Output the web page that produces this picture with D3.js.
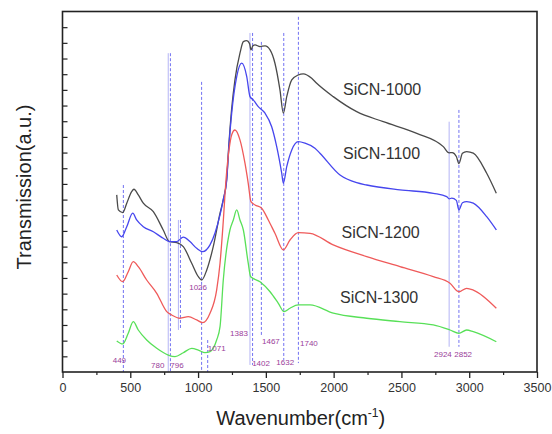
<!DOCTYPE html>
<html>
<head>
<meta charset="utf-8">
<script src="https://cdn.jsdelivr.net/npm/d3@7"></script>
<style>
  body { margin: 0; background: #fff; }
  svg { display: block; }
</style>
</head>
<body>
<svg id="chart" width="552" height="434"></svg>
<script>
// FTIR spectra of SiCN ceramics pyrolysed at different temperatures
// (wavenumber in cm^-1, transmission in arbitrary units, curves stacked)
const seriesNames = ["SiCN-1000", "SiCN-1100", "SiCN-1200", "SiCN-1300"];

const sicn1000 = [
  [400,11.30],[412,10.34],[444,10.17],[474,10.77],[510,11.51],[527,11.66],[559,11.30],[596,10.77],
  [670,10.23],[743,9.06],[788,8.32],[842,8.25],[891,8.00],[953,6.94],[1002,6.08],[1027,5.87],
  [1064,6.51],[1112,8.00],[1162,10.13],[1186,11.0],[1211,12.3],[1228,14.6],[1247,16.72],[1272,18.64],
  [1309,20.34],[1334,21.08],[1359,21.14],[1380,20.95],[1390,20.55],[1405,20.82],[1420,20.87],
  [1457,20.76],[1494,20.81],[1531,20.55],[1567,19.70],[1604,18.00],[1629,16.51],[1654,17.57],
  [1691,18.64],[1739,18.95],[1776,19.02],[1838,18.74],[1875,18.42],[1997,17.57],[2170,16.61],
  [2366,15.97],[2613,15.23],[2809,14.38],[2852,13.98],[2875,14.00],[2905,13.75],[2924,13.30],
  [2950,13.95],[2981,14.06],[3030,13.96],[3129,12.68],[3200,11.40]
];

const sicn1100 = [
  [400,9.06],[437,8.63],[474,9.27],[518,10.13],[547,9.70],[596,9.27],[670,8.95],[743,8.53],
  [793,8.32],[842,8.32],[891,8.60],[940,8.32],[990,7.89],[1034,7.68],[1088,8.11],[1125,8.87],
  [1162,10.02],[1186,11.0],[1211,12.2],[1228,14.5],[1248,16.51],[1285,18.85],[1322,19.70],
  [1359,18.85],[1383,17.57],[1407,17.36],[1444,16.93],[1494,16.51],[1543,15.65],[1580,14.38],
  [1617,12.68],[1629,12.04],[1654,13.10],[1691,14.17],[1739,14.70],[1789,14.60],[1862,14.28],
  [1899,13.96],[2047,12.57],[2170,12.08],[2244,11.93],[2489,11.62],[2735,11.40],[2834,11.19],
  [2852,11.05],[2871,11.09],[2905,10.95],[2924,10.34],[2950,10.80],[2981,10.87],[3030,10.77],
  [3129,9.91],[3200,9.06]
];

const sicn1200 = [
  [400,6.19],[444,5.76],[485,6.40],[522,7.04],[559,6.72],[621,5.87],[695,5.02],[769,3.85],
  [805,3.64],[867,3.43],[928,3.53],[990,3.32],[1034,3.15],[1088,3.75],[1137,5.23],[1162,6.94],
  [1184,9.38],[1206,12.25],[1228,14.17],[1250,15.19],[1272,15.44],[1309,14.81],[1346,13.32],
  [1370,12.04],[1390,10.87],[1420,10.66],[1469,10.45],[1518,9.70],[1567,8.85],[1629,7.79],
  [1678,8.42],[1739,8.89],[1826,8.85],[1997,8.11],[2244,7.36],[2489,6.72],[2735,6.08],
  [2858,5.66],[2924,5.12],[2981,5.34],[3030,5.23],[3200,4.07]
];

const sicn1300 = [
  [400,1.98],[444,1.79],[485,2.47],[522,3.21],[559,2.68],[621,2.04],[695,1.51],[780,1.08],
  [830,0.98],[891,1.23],[953,1.51],[1002,1.40],[1051,1.23],[1088,1.30],[1137,2.04],[1162,2.89],
  [1186,5.87],[1235,9.06],[1260,9.70],[1285,10.34],[1309,9.70],[1334,9.06],[1370,6.94],
  [1388,6.08],[1457,5.76],[1531,5.12],[1592,4.38],[1634,3.85],[1678,4.07],[1739,4.28],
  [1826,4.28],[1997,3.75],[2244,3.43],[2489,3.21],[2735,3.00],[2858,2.68],[2924,2.47],
  [2981,2.68],[3030,2.57],[3200,1.93]
];

// Assigned absorption bands: position, extent of the guide line (a.u.) and label text
const bandPositions = [449, 780, 796, 855, 870, 1026, 1071, 1383, 1402, 1467, 1632, 1740, 2852, 2924];
const bandTop       = [11.93, 20.34, 20.34, 9.70, 9.70, 18.51, 2.04, 21.63, 21.63, 21.06, 21.63, 22.66, 15.97, 16.72];
const bandBottom    = [0, 0, 0, 2.68, 2.68, 0, 0, 0.45, 0.45, 2.25, 0.77, 0.57, 1.61, 1.61];
const bandLabels    = ["449", "780", "796", "", "", "1026", "1071", "1383", "1402", "1467", "1632", "1740", "2852", "2924"];

const xTicks = [0, 500, 1000, 1500, 2000, 2500, 3000, 3500];
const xMinorTicks = [250, 750, 1250, 1750, 2250, 2750, 3250];
const yTicks = d3.range(1, 23);

// ---- layout & styling ----
const frame = { left: 62.5, right: 537, top: 11.5, bottom: 372 };
const colors = ["#4a4a4a", "#4646ee", "#ef5a5a", "#58e058"];
const nameLayout = [ // x (px), baseline (px) of the series names
  [343, 95], [343, 159], [341.5, 237.5], [340, 302.5]
];
const lightBands = new Set([780, 855, 1383, 2852]);
// label placement: horizontal offset from the band line and baseline (px)
const labelLayout = {
  "449": [-4, 363], "780": [-10.5, 368], "796": [6.5, 368], "1026": [-3.5, 290],
  "1071": [9, 351], "1383": [-11, 336], "1402": [8.5, 366], "1467": [9.5, 344],
  "1632": [1.5, 365], "1740": [10.5, 346], "2852": [14, 357], "2924": [-16, 357]
};

const svg = d3.select("#chart");
const x = d3.scaleLinear().domain([0, 3500]).range([frame.left, frame.right]);
const y = d3.scaleLinear().domain([0, 23]).range([frame.bottom, frame.top]);

// band guide lines
const bands = bandPositions.map((p, i) => ({ p, top: bandTop[i], bottom: bandBottom[i], label: bandLabels[i] }));
svg.append("g").selectAll("line").data(bands).join("line")
  .attr("x1", d => x(d.p)).attr("x2", d => x(d.p))
  .attr("y1", d => y(d.top)).attr("y2", d => y(d.bottom))
  .attr("stroke", d => lightBands.has(d.p) ? "#a8a8f4" : "#5a5af0")
  .attr("stroke-width", 1)
  .attr("stroke-dasharray", d => lightBands.has(d.p) ? null : "3,2")
  .attr("opacity", 0.85);

// spectra
const line = d3.line().x(d => x(d[0])).y(d => y(d[1])).curve(d3.curveMonotoneX);
const series = [sicn1000, sicn1100, sicn1200, sicn1300];
svg.append("g").selectAll("path").data(series).join("path")
  .attr("d", line)
  .attr("fill", "none")
  .attr("stroke", (d, i) => colors[i])
  .attr("stroke-width", 1.3)
  .attr("stroke-linejoin", "round");

// band labels
svg.append("g").selectAll("text").data(bands.filter(d => d.label)).join("text")
  .attr("x", d => x(d.p) + labelLayout[d.label][0])
  .attr("y", d => labelLayout[d.label][1])
  .attr("text-anchor", "middle")
  .attr("font-family", "Liberation Sans, Arial, sans-serif")
  .attr("font-size", 8)
  .attr("fill", "#9a3d9a")
  .text(d => d.label);

// series names
svg.append("g").selectAll("text").data(seriesNames).join("text")
  .attr("x", (d, i) => nameLayout[i][0])
  .attr("y", (d, i) => nameLayout[i][1])
  .attr("font-family", "Liberation Sans, Arial, sans-serif")
  .attr("font-size", 16)
  .attr("fill", "#333")
  .text(d => d);

// x axis (outward ticks) with minor ticks
const xAxis = svg.append("g").attr("transform", `translate(0,${frame.bottom})`)
  .call(d3.axisBottom(x).tickValues(xTicks).tickSize(6).tickPadding(5).tickFormat(d3.format("d")));
xAxis.select(".domain").remove();
xAxis.selectAll("line").attr("stroke", "#222").attr("stroke-width", 1.3);
xAxis.selectAll("text").attr("font-family", "Liberation Sans, Arial, sans-serif")
  .attr("font-size", 12.5).attr("fill", "#333");
svg.append("g").attr("transform", `translate(0,${frame.bottom})`)
  .call(d3.axisBottom(x).tickValues(xMinorTicks).tickSize(3).tickFormat(""))
  .call(g => g.select(".domain").remove())
  .selectAll("line").attr("stroke", "#222").attr("stroke-width", 1.2);

// y axis (inward ticks, no labels)
const yAxis = svg.append("g").attr("transform", `translate(${frame.left},0)`)
  .call(d3.axisRight(y).tickValues(yTicks).tickSize(5).tickFormat(""));
yAxis.select(".domain").remove();
yAxis.selectAll("line").attr("stroke", "#222").attr("stroke-width", 1.2);

// frame
svg.append("rect")
  .attr("x", frame.left).attr("y", frame.top)
  .attr("width", frame.right - frame.left).attr("height", frame.bottom - frame.top)
  .attr("fill", "none").attr("stroke", "#222").attr("stroke-width", 1.6);

// axis titles
const xTitle = svg.append("text")
  .attr("x", (frame.left + frame.right) / 2 + 1).attr("y", 425)
  .attr("text-anchor", "middle")
  .attr("font-family", "Liberation Sans, Arial, sans-serif")
  .attr("font-size", 20).attr("fill", "#222");
xTitle.append("tspan").text("Wavenumber(cm");
xTitle.append("tspan").attr("font-size", 12).attr("dy", -8).text("-1");
xTitle.append("tspan").attr("dy", 8).text(")");

svg.append("text")
  .attr("transform", `translate(31,187) rotate(-90)`)
  .attr("text-anchor", "middle")
  .attr("font-family", "Liberation Sans, Arial, sans-serif")
  .attr("font-size", 20).attr("fill", "#222")
  .text("Transmission(a.u.)");
</script>
</body>
</html>
